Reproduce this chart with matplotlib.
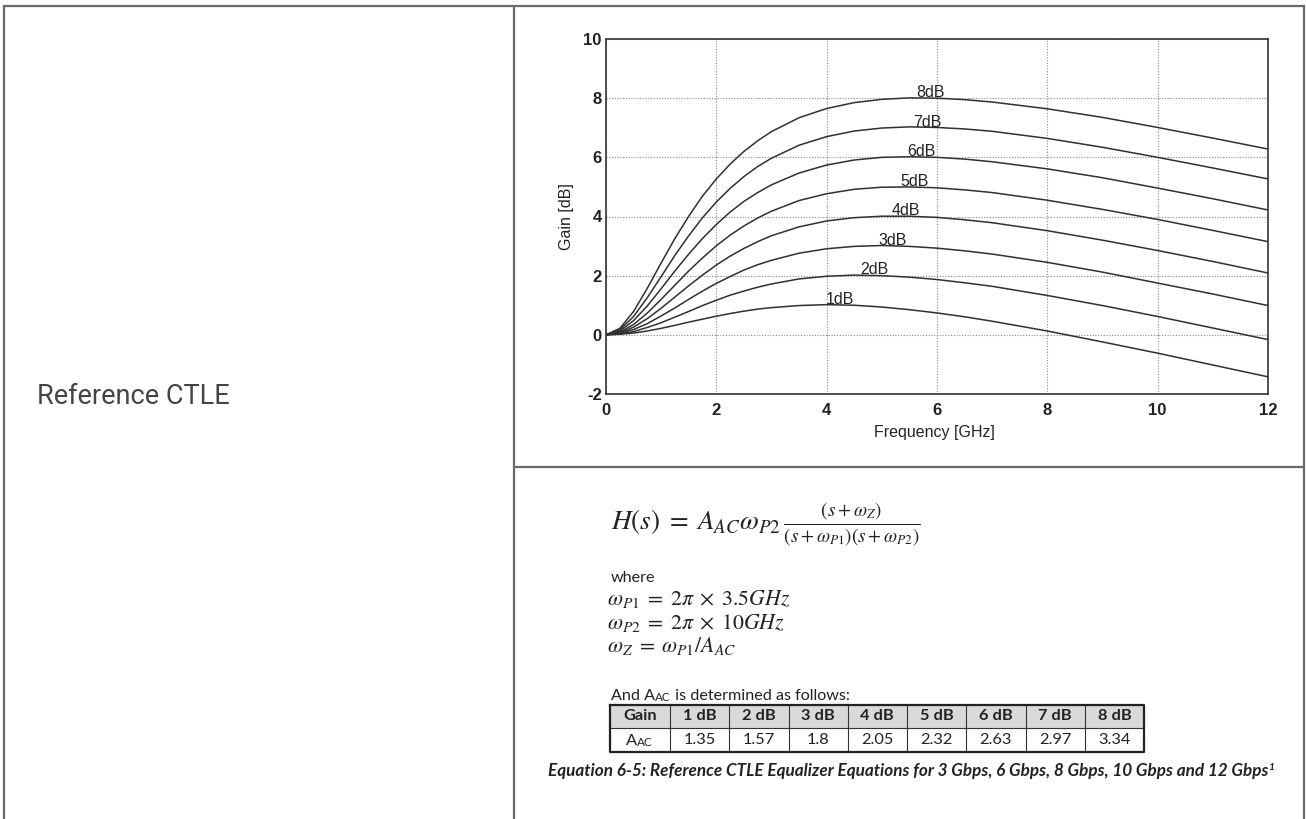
import matplotlib
matplotlib.use("Agg")
import matplotlib.pyplot as plt

plt.rcParams['font.family'] = ['Liberation Sans', 'DejaVu Sans']
plt.rcParams['axes.unicode_minus'] = False

# gain curves, Gain [dB] vs Frequency [GHz]
freq = [0, 0.25, 0.5, 0.75, 1, 1.25, 1.5, 1.75, 2, 2.25, 2.5, 2.75, 3, 3.5, 4, 4.5, 5, 5.5, 6, 6.5, 7, 8, 9, 10, 11, 12]
g1 = [0, 0.02, 0.06, 0.13, 0.22, 0.32, 0.43, 0.53, 0.63, 0.72, 0.80, 0.87, 0.92, 0.99, 1.02, 1.00, 0.94, 0.85, 0.74, 0.61, 0.46, 0.13, -0.24, -0.62, -1.02, -1.42]
g2 = [0, 0.03, 0.11, 0.25, 0.41, 0.60, 0.79, 0.99, 1.17, 1.34, 1.48, 1.61, 1.72, 1.89, 1.98, 2.02, 2.00, 1.95, 1.87, 1.76, 1.64, 1.33, 0.99, 0.62, 0.23, -0.16]
g3 = [0, 0.05, 0.18, 0.38, 0.64, 0.91, 1.20, 1.48, 1.74, 1.97, 2.19, 2.37, 2.52, 2.76, 2.91, 2.99, 3.02, 2.99, 2.93, 2.84, 2.73, 2.45, 2.12, 1.75, 1.38, 0.99]
g4 = [0, 0.07, 0.26, 0.55, 0.90, 1.28, 1.66, 2.02, 2.36, 2.66, 2.92, 3.15, 3.35, 3.65, 3.85, 3.96, 4.01, 4.01, 3.97, 3.89, 3.79, 3.52, 3.20, 2.85, 2.48, 2.09]
g5 = [0, 0.09, 0.35, 0.74, 1.20, 1.68, 2.16, 2.60, 3.01, 3.37, 3.68, 3.95, 4.18, 4.54, 4.77, 4.92, 4.99, 5.00, 4.97, 4.90, 4.81, 4.55, 4.24, 3.90, 3.53, 3.15]
g6 = [0, 0.13, 0.48, 0.98, 1.56, 2.16, 2.73, 3.26, 3.73, 4.15, 4.51, 4.81, 5.07, 5.47, 5.74, 5.91, 6.00, 6.02, 6.00, 5.94, 5.85, 5.61, 5.31, 4.96, 4.60, 4.22]
g7 = [0, 0.17, 0.62, 1.26, 1.97, 2.69, 3.35, 3.96, 4.49, 4.95, 5.35, 5.69, 5.97, 6.41, 6.70, 6.89, 6.99, 7.03, 7.01, 6.96, 6.88, 6.64, 6.34, 6.00, 5.64, 5.27]
g8 = [0, 0.22, 0.79, 1.58, 2.43, 3.26, 4.01, 4.69, 5.27, 5.77, 6.20, 6.56, 6.87, 7.34, 7.65, 7.85, 7.96, 8.01, 8.00, 7.95, 7.87, 7.64, 7.35, 7.01, 6.65, 6.28]
curves = [g1, g2, g3, g4, g5, g6, g7, g8]

gain_db = [1, 2, 3, 4, 5, 6, 7, 8]
label_freq = [4.24, 4.86, 5.19, 5.44, 5.60, 5.71, 5.82, 5.89]
a_ac = ['1.35', '1.57', '1.8', '2.05', '2.32', '2.63', '2.97', '3.34']

W, H = 1306, 819
fig = plt.figure(figsize=(W / 100, H / 100), dpi=100)
fig.patch.set_facecolor('white')

# full-figure pixel axes for the page layout
bg = fig.add_axes([0, 0, 1, 1])
bg.set_xlim(0, W)
bg.set_ylim(H, 0)
bg.axis('off')

rend = fig.canvas.get_renderer()


def fit(items, width):
    fig.canvas.draw()
    boxes = [t.get_window_extent(rend) for t in items]
    w = max(b.x1 for b in boxes) - min(b.x0 for b in boxes)
    for t in items:
        t.set_fontsize(t.get_fontsize() * width / w)


border = '#6a6a6a'
for xs, ys in [((4, 4), (5, H)), ((1304, 1304), (5, H)), ((3, 1305), (5.5, 5.5)),
               ((514, 514), (5, H)), ((514, 1304), (467, 467))]:
    bg.plot(xs, ys, color=border, lw=1.6, solid_capstyle='butt')

rt = bg.text(37, 397, 'Reference CTLE', fontfamily=['Roboto', 'DejaVu Sans'],
             fontweight='normal', fontsize=18, color='#444444', va='center', ha='left')
fit([rt], 193)

# the plot
ax = fig.add_axes([606 / W, 1 - 394 / H, 662 / W, 355 / H])
for g in curves:
    ax.plot(freq, g, color='#303030', lw=1.1)
for lvl, fx in zip(gain_db, label_freq):
    ax.text(fx, lvl + 0.04, f'{lvl}dB', ha='center', va='baseline', fontsize=11.5, color='#222222')

ax.set_xlim(0, 12)
ax.set_ylim(-2, 10)
ax.set_xticks(range(0, 13, 2))
ax.set_yticks(range(-2, 11, 2))
ax.grid(True, linestyle=(0, (1, 1.5)), color='#8a8a8a', lw=0.8)
ax.tick_params(length=0, labelsize=12, colors='#222222')
ax.tick_params(axis='x', pad=6.5)
ax.tick_params(axis='y', pad=3)
for lbl in ax.get_xticklabels() + ax.get_yticklabels():
    lbl.set_fontweight('bold')
for sp in ax.spines.values():
    sp.set_color('#333333')
    sp.set_linewidth(1.2)
ax.set_xlabel('Frequency [GHz]', fontsize=11.5, color='#222222', va='center')
ax.xaxis.set_label_coords(0.496, -38 / 355)
ax.set_ylabel('Gain [dB]', fontsize=11.5, color='#222222', va='center', ha='center')
ax.yaxis.set_label_coords(-39 / 662, 0.5)

# equations
txt = '#222222'
body = ['Lato', 'DejaVu Sans']
eq = bg.text(611, 524, r'$H(s)\;=\;A_{AC}\omega_{P2}\,\frac{(s+\omega_Z)}{(s+\omega_{P1})(s+\omega_{P2})}$',
             math_fontfamily='stix', fontsize=20, va='center', ha='left', color=txt)
fit([eq], 309)

wh = bg.text(611, 582, 'where', fontfamily=body, fontsize=12, va='baseline', color=txt)

w1 = bg.text(607, 605, r'$\omega_{P1}\;=\;2\pi\;\times\;3.5GHz$', math_fontfamily='stix',
             fontsize=16, va='baseline', color=txt)
fit([w1], 184)
fs_w = w1.get_fontsize()
bg.text(607, 628.5, r'$\omega_{P2}\;=\;2\pi\;\times\;10GHz$', math_fontfamily='stix',
        fontsize=fs_w, va='baseline', color=txt)
bg.text(607, 652, r'$\omega_{Z}\;=\;\omega_{P1}/A_{AC}$', math_fontfamily='stix',
        fontsize=fs_w, va='baseline', color=txt)

a1 = bg.text(611, 700, 'And A', fontfamily=body, fontsize=12, va='baseline', color=txt)
a2 = bg.annotate('AC', xy=(1, 0), xycoords=a1, va='bottom', ha='left',
                 fontfamily=body, fontsize=12 * 0.72, color=txt)
a3 = bg.annotate(' is determined as follows:', xy=(1, 0), xycoords=a2, va='bottom', ha='left',
                 fontfamily=body, fontsize=12, color=txt)
fit([a1, a2, a3], 238)
wh.set_fontsize(a1.get_fontsize())

# A_AC table
tx0, tx1 = 610, 1144
first_w = 60
col_w = (tx1 - tx0 - first_w) / len(gain_db)
ty = [705, 728, 752]
edges = [tx0, tx0 + first_w] + [tx0 + first_w + col_w * (i + 1) for i in range(len(gain_db))]
bg.fill_between([tx0, tx1], ty[0], ty[1], color='#d9d9d9', lw=0)
for e in edges[1:-1]:
    bg.plot([e, e], [ty[0], ty[2]], color='#333333', lw=0.8)
bg.plot([tx0, tx1], [ty[1], ty[1]], color='#333333', lw=0.8)
bg.plot([tx0, tx1, tx1, tx0, tx0], [ty[0], ty[0], ty[2], ty[2], ty[0]], color='#222222', lw=1.6)

tfs = 11.8
hc = (ty[0] + ty[1]) / 2
dc = (ty[1] + ty[2]) / 2
heads = ['Gain'] + [f'{g} dB' for g in gain_db]
for i, h in enumerate(heads):
    cx = (edges[i] + edges[i + 1]) / 2
    bg.text(cx, hc, h, fontfamily=body, fontweight='bold', fontsize=tfs,
            ha='center', va='center', color=txt)
for i, v in enumerate(a_ac):
    cx = (edges[i + 1] + edges[i + 2]) / 2
    bg.text(cx, dc, v, fontfamily=body, fontsize=tfs, ha='center', va='center', color=txt)
c0 = (edges[0] + edges[1]) / 2
ta = bg.text(c0 - 3, dc + 5, 'A', fontfamily=body, fontsize=tfs, ha='right', va='baseline', color=txt)
bg.annotate('AC', xy=(1, 0), xycoords=ta, va='bottom', ha='left',
            fontfamily=body, fontsize=tfs * 0.72, color=txt)

cap = bg.text(907.75, 771,
              'Equation 6-5: Reference CTLE Equalizer Equations for 3 Gbps, 6 Gbps, 8 Gbps, 10 Gbps and 12 Gbps',
              fontfamily=body, fontweight='bold', fontstyle='italic', fontsize=12,
              ha='center', va='center', color=txt)
fit([cap], 720)
bg.annotate('1', xy=(1, 1), xycoords=cap, va='top', ha='left', fontfamily=body,
            fontweight='bold', fontstyle='italic', fontsize=cap.get_fontsize() * 0.6, color=txt)

fig.savefig('out.png', dpi=100)
